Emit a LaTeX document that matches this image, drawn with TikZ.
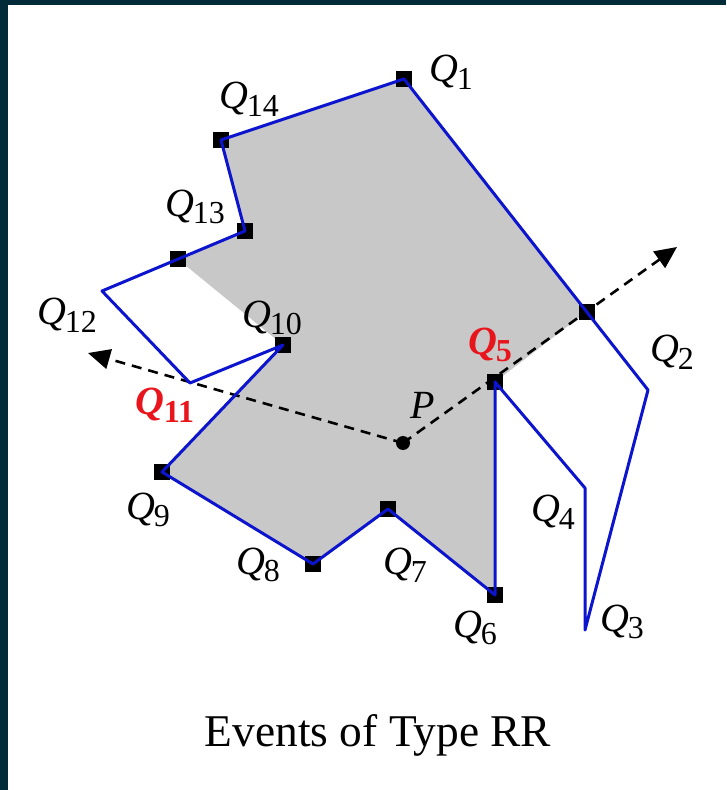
\documentclass[tikz,border=0pt]{standalone}
\usepackage{fontspec}
\setmainfont{Liberation Serif}
\usetikzlibrary{arrows.meta, calc}
\usepackage{xcolor}
\definecolor{framecol}{RGB}{2,43,58}
\definecolor{edgeblue}{RGB}{12,20,205}
\definecolor{greyfill}{RGB}{200,200,200}
\definecolor{hotred}{RGB}{232,22,28}
\newcommand{\qlab}[1]{\textit{Q}\kern-0.5pt\raisebox{-0.42ex}{\fontsize{16}{16}\selectfont #1}}
\newcommand{\qhot}[1]{\textcolor{hotred}{\bfseries\textit{Q}\kern-0.5pt\raisebox{-0.42ex}{\fontsize{16}{16}\selectfont #1}}}

\begin{document}
\begin{tikzpicture}[x=0.5pt, y=-0.5pt,
    vbox/.style={fill=black, minimum size=8pt, inner sep=0pt},
    edge/.style={edgeblue, line width=1.5pt, line join=round},
    ray/.style={dash pattern=on 5pt off 3.5pt, line width=1.3pt, -{Triangle[length=11pt, width=10pt]}},
    lab/.style={inner sep=0pt, font=\fontsize{20}{24}\selectfont}]
  \useasboundingbox (0,0) rectangle (726,790);
  \fill[framecol] (0,0) rectangle (726,5);
  \fill[framecol] (0,0) rectangle (8,790);

  % polygon vertices
  \coordinate (P) at (403,443);
  \coordinate (q1) at (404,79);
  \coordinate (q2) at (648,390);
  \coordinate (q3) at (585,630);
  \coordinate (q4) at (585,488);
  \coordinate (q5) at (495,382);
  \coordinate (q6) at (495,595);
  \coordinate (q7) at (388,509);
  \coordinate (q8) at (313,564);
  \coordinate (q9) at (162,472);
  \coordinate (q10) at (283,345);
  \coordinate (q11) at (190,383);
  \coordinate (q12) at (102,291);
  \coordinate (q13) at (245,231);
  \coordinate (q14) at (221,140);
  \coordinate (tipR) at (677,247);
  \coordinate (tipL) at (88,353);
  \coordinate (hitA) at (intersection of P--tipR and q1--q2);
  \coordinate (hitB) at (intersection of P--q10 and q12--q13);

  % visible part
  \fill[greyfill] (q1) -- (hitA) -- (q5) -- (q6) -- (q7) -- (q8) -- (q9) -- (q10)
    -- (hitB) -- (q13) -- (q14) -- cycle;

  \draw[ray] (P) -- (tipR);
  \draw[ray] (P) -- (tipL);

  \foreach \v in {q1,q14,q13,hitB,q10,q9,q8,q7,q6,q5,hitA} {
    \node[vbox] (m-\v) at (\v) {};
  }
  \fill (P) circle (3.5pt);

  \draw[edge] (q1) -- (q2) -- (q3) -- (q4) -- (q5) -- (q6) -- (q7) -- (q8)
    -- (q9) -- (q10) -- (q11) -- (q12) -- (q13) -- (q14) -- cycle;

  % labels
  \node[lab] (l1) at (451,72) {\qlab{1}};
  \node[lab] (l2) at (672,352) {\qlab{2}};
  \node[lab] (l3) at (622,622) {\qlab{3}};
  \node[lab] (l4) at (553,512) {\qlab{4}};
  \node[lab] (l5) at (490,345) {\qhot{5}};
  \node[lab] (l6) at (475,628) {\qlab{6}};
  \node[lab] (l7) at (405,565) {\qlab{7}};
  \node[lab] (l8) at (258,565) {\qlab{8}};
  \node[lab] (l9) at (148,510) {\qlab{9}};
  \node[lab] (l10) at (272,318) {\qlab{10}};
  \node[lab] (l11) at (165,405) {\qhot{11}};
  \node[lab] (l12) at (67,315) {\qlab{12}};
  \node[lab] (l13) at (195,207) {\qlab{13}};
  \node[lab] (l14) at (249,99) {\qlab{14}};
  \node[lab] (lP) at (423,405) {\textit{P}};
  \node[inner sep=0pt, font=\fontsize{22.7}{27}\selectfont] (title) at (378,735) {Events of Type RR};
\end{tikzpicture}
\end{document}
